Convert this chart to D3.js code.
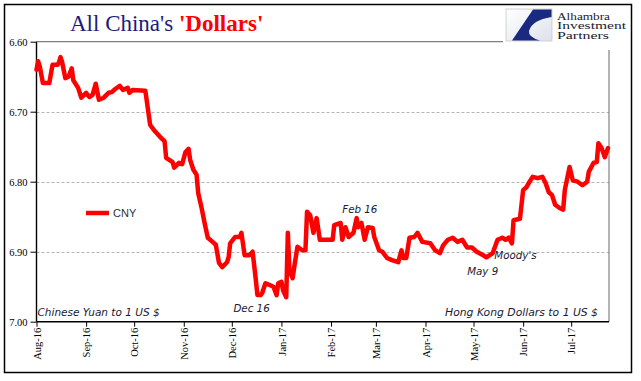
<!DOCTYPE html>
<html><head><meta charset="utf-8">
<script src="https://cdn.jsdelivr.net/npm/d3@7"></script>
<style>body{margin:0;background:#fff}svg{display:block}</style>
</head><body>
<svg id="c" width="641" height="381"></svg>
<script>
// ---- DATA ----
const dates = ["2016-08-01","2016-08-02","2016-08-03","2016-08-05","2016-08-09","2016-08-11","2016-08-14","2016-08-15","2016-08-16","2016-08-17",
"2016-08-19","2016-08-21","2016-08-23","2016-08-24","2016-08-27","2016-08-29","2016-09-01","2016-09-03","2016-09-05","2016-09-07",
"2016-09-09","2016-09-12","2016-09-15","2016-09-17","2016-09-19","2016-09-22","2016-09-24","2016-09-27","2016-09-28","2016-09-30",
"2016-10-08","2016-10-11","2016-10-14","2016-10-18","2016-10-20","2016-10-21","2016-10-25","2016-10-26","2016-10-29","2016-10-31",
"2016-11-02","2016-11-04","2016-11-05","2016-11-07","2016-11-09","2016-11-10","2016-11-12","2016-11-14","2016-11-16","2016-11-19",
"2016-11-21","2016-11-23","2016-11-25","2016-11-28","2016-11-29","2016-11-30","2016-12-03","2016-12-06","2016-12-07","2016-12-09",
"2016-12-12","2016-12-14","2016-12-16","2016-12-17","2016-12-19","2016-12-20","2016-12-22","2016-12-25","2016-12-27","2016-12-29",
"2016-12-30","2017-01-01","2017-01-02","2017-01-04","2017-01-05","2017-01-06","2017-01-08","2017-01-09","2017-01-11","2017-01-14",
"2017-01-16","2017-01-17","2017-01-19","2017-01-21","2017-01-23","2017-01-25","2017-02-02","2017-02-03","2017-02-07","2017-02-08",
"2017-02-10","2017-02-12","2017-02-15","2017-02-17","2017-02-18","2017-02-20","2017-02-22","2017-02-24","2017-02-27","2017-02-28",
"2017-03-03","2017-03-05","2017-03-08","2017-03-11","2017-03-15","2017-03-17","2017-03-18","2017-03-20","2017-03-22","2017-03-25",
"2017-03-27","2017-03-30","2017-04-04","2017-04-07","2017-04-10","2017-04-12","2017-04-15","2017-04-18","2017-04-21","2017-04-24",
"2017-04-27","2017-04-30","2017-05-03","2017-05-07","2017-05-09","2017-05-13","2017-05-16","2017-05-19","2017-05-21","2017-05-23",
"2017-05-25","2017-05-26","2017-05-30","2017-06-01","2017-06-03","2017-06-05","2017-06-07","2017-06-10","2017-06-13","2017-06-15",
"2017-06-17","2017-06-19","2017-06-21","2017-06-24","2017-06-26","2017-06-27","2017-06-30","2017-07-02","2017-07-05","2017-07-08",
"2017-07-11","2017-07-12","2017-07-15","2017-07-17","2017-07-18","2017-07-20","2017-07-22","2017-07-24"];
const cny = [6.640,6.628,6.635,6.659,6.659,6.633,6.633,6.630,6.622,6.629,
6.652,6.650,6.638,6.655,6.666,6.680,6.673,6.679,6.676,6.660,
6.683,6.680,6.673,6.672,6.668,6.663,6.669,6.666,6.673,6.669,
6.670,6.719,6.728,6.738,6.742,6.766,6.772,6.780,6.773,6.775,
6.758,6.753,6.769,6.783,6.790,6.816,6.836,6.859,6.880,6.886,
6.890,6.916,6.922,6.915,6.908,6.888,6.879,6.879,6.873,6.905,
6.905,6.900,6.940,6.962,6.962,6.959,6.945,6.948,6.950,6.962,
6.945,6.943,6.955,6.965,6.873,6.926,6.938,6.922,6.893,6.898,
6.898,6.843,6.848,6.873,6.852,6.883,6.883,6.862,6.859,6.883,
6.865,6.879,6.873,6.852,6.865,6.859,6.883,6.865,6.866,6.879,
6.898,6.900,6.909,6.912,6.915,6.898,6.909,6.909,6.880,6.879,
6.873,6.886,6.888,6.898,6.902,6.891,6.883,6.880,6.886,6.883,
6.894,6.894,6.900,6.905,6.908,6.902,6.883,6.880,6.883,6.880,
6.888,6.855,6.853,6.812,6.808,6.800,6.793,6.795,6.793,6.802,
6.815,6.819,6.833,6.838,6.840,6.812,6.779,6.798,6.800,6.805,
6.800,6.786,6.773,6.772,6.745,6.752,6.765,6.752];
const yTicks = [6.60, 6.70, 6.80, 6.90, 7.00];
const monthTicks = ["2016-08-01","2016-09-01","2016-10-01","2016-11-01","2016-12-01","2017-01-01",
                    "2017-02-01","2017-03-01","2017-04-01","2017-05-01","2017-06-01","2017-07-01"];
const notes = [
  {text:"Feb 16", date:"2017-02-08", value:6.845},
  {text:"Dec 16", date:"2016-12-02", value:6.986},
  {text:"Moody's", date:"2017-05-14", value:6.910},
  {text:"May 9", date:"2017-04-27", value:6.933}
];

// ---- CHART ----
const parse = d3.utcParse("%Y-%m-%d");
const data = dates.map((d,i)=>({date:parse(d), v:cny[i]}));
const svg = d3.select("#c");
const L = 36.5, R = 609, T = 41.7, B = 321.7;

const x = d3.scaleUtc().domain([parse("2016-08-01"), parse("2017-07-25")]).range([L, 609.6]);
const y = d3.scaleLinear().domain([6.60, 7.00]).range([T, B]);

// outer border
svg.append("rect").attr("x",4.5).attr("y",4.5).attr("width",627).attr("height",368)
  .attr("fill","#fff").attr("stroke","#000").attr("stroke-width",1.5);

// gridlines
svg.append("g").selectAll("line").data(yTicks.slice(1,4)).join("line")
  .attr("x1",L).attr("x2",R).attr("y1",d=>Math.round(y(d))+0.5).attr("y2",d=>Math.round(y(d))+0.5)
  .attr("stroke","#b4b4b4").attr("stroke-dasharray","3,2").attr("stroke-width",1);
// top line and right line
svg.append("line").attr("x1",L).attr("x2",503).attr("y1",y(6.60)).attr("y2",y(6.60))
  .attr("stroke","#808080").attr("stroke-width",1.2);
svg.append("line").attr("x1",R).attr("x2",R).attr("y1",50).attr("y2",B)
  .attr("stroke","#808080").attr("stroke-width",1.2);

// axes
const yAxis = svg.append("g").attr("transform",`translate(${L},0)`)
  .call(d3.axisLeft(y).tickValues(yTicks).tickFormat(d3.format(".2f")).tickSize(6).tickPadding(3));
yAxis.select(".domain").remove();
yAxis.selectAll("line").attr("stroke","#000");
yAxis.selectAll("text").attr("font-family","'Liberation Serif', serif").attr("font-size","10.5px").attr("fill","#000");

const xAxis = svg.append("g").attr("transform",`translate(0,${B})`)
  .call(d3.axisBottom(x).tickValues(monthTicks.map(parse)).tickFormat(d3.utcFormat("%b-%y")).tickSize(5));
xAxis.select(".domain").remove();
xAxis.selectAll("line").attr("stroke","#000");
xAxis.selectAll("text").attr("font-family","'Liberation Serif', serif").attr("font-size","10.5px").attr("fill","#000")
  .attr("transform","rotate(-90)").attr("text-anchor","end").attr("x",-6).attr("y",0).attr("dy","0.35em");

svg.append("line").attr("x1",L).attr("x2",L).attr("y1",T).attr("y2",B).attr("stroke","#000").attr("stroke-width",1.4);
svg.append("line").attr("x1",L).attr("x2",R).attr("y1",B).attr("y2",B).attr("stroke","#000").attr("stroke-width",1.4);

// series line
svg.append("path").datum(data)
  .attr("d", d3.line().x(d=>x(d.date)).y(d=>y(d.v)))
  .attr("fill","none").attr("stroke","#ff0000").attr("stroke-width",4.5)
  .attr("stroke-linejoin","round").attr("stroke-linecap","round");

// legend
svg.append("line").attr("x1",86).attr("x2",109).attr("y1",213).attr("y2",213)
  .attr("stroke","#ff0000").attr("stroke-width",4.5);
svg.append("text").attr("x",113).attr("y",217).text("CNY")
  .attr("font-family","'Liberation Sans', Arial, sans-serif").attr("font-size","11px").attr("fill","#333");

// annotations
const noteFont = "'DejaVu Sans', sans-serif";
svg.append("g").selectAll("text").data(notes).join("text")
  .attr("x",d=>x(parse(d.date))).attr("y",d=>y(d.value)).text(d=>d.text)
  .attr("font-family",noteFont).attr("font-style","italic").attr("font-size","10.3px").attr("fill","#1a1a33");
svg.append("text").attr("x",L+1).attr("y",B-5.5).text("Chinese Yuan to 1 US $")
  .attr("font-family",noteFont).attr("font-style","italic").attr("font-size","10.5px").attr("fill","#1a1a33");
svg.append("text").attr("x",598).attr("y",B-5.5).attr("text-anchor","end").text("Hong Kong Dollars to 1 US $")
  .attr("font-family",noteFont).attr("font-style","italic").attr("font-size","10.8px").attr("fill","#1a1a33");

// title
const title = svg.append("text").attr("x",70).attr("y",31)
  .attr("font-family","'Liberation Serif', 'Times New Roman', serif").attr("font-size","23px");
title.append("tspan").attr("fill","#1c1c7a").text("All China's ");
title.append("tspan").attr("fill","#ff0000").attr("font-weight","bold").text("'Dollars'");

// logo
const logo = svg.append("g");
const grad = svg.append("defs").append("linearGradient").attr("id","lg").attr("x1","0").attr("y1","0").attr("x2","1").attr("y2","1");
grad.append("stop").attr("offset","0").attr("stop-color","#ffffff");
grad.append("stop").attr("offset","1").attr("stop-color","#dde2ea");
logo.append("rect").attr("x",506).attr("y",9).attr("width",46).attr("height",32)
  .attr("fill","url(#lg)").attr("stroke","#c8c8c8").attr("stroke-width",0.8);
logo.append("path").attr("d","M533,9.5 L551.5,9.5 L551.5,17 Q532,20 529,31 Q528,37 540,40.5 L512,40.5 Z")
  .attr("fill","#1a2a80");
const lt = logo.append("g").attr("font-family","'Liberation Serif', serif").attr("font-size","10px").attr("fill","#1a1a2e");
lt.append("text").attr("x",557).attr("y",19.5).attr("textLength",53).attr("lengthAdjust","spacingAndGlyphs").text("Alhambra");
lt.append("text").attr("x",557).attr("y",29).attr("textLength",69).attr("lengthAdjust","spacingAndGlyphs").text("Investment");
lt.append("text").attr("x",557).attr("y",38.5).attr("textLength",52).attr("lengthAdjust","spacingAndGlyphs").text("Partners");
</script>
</body></html>
